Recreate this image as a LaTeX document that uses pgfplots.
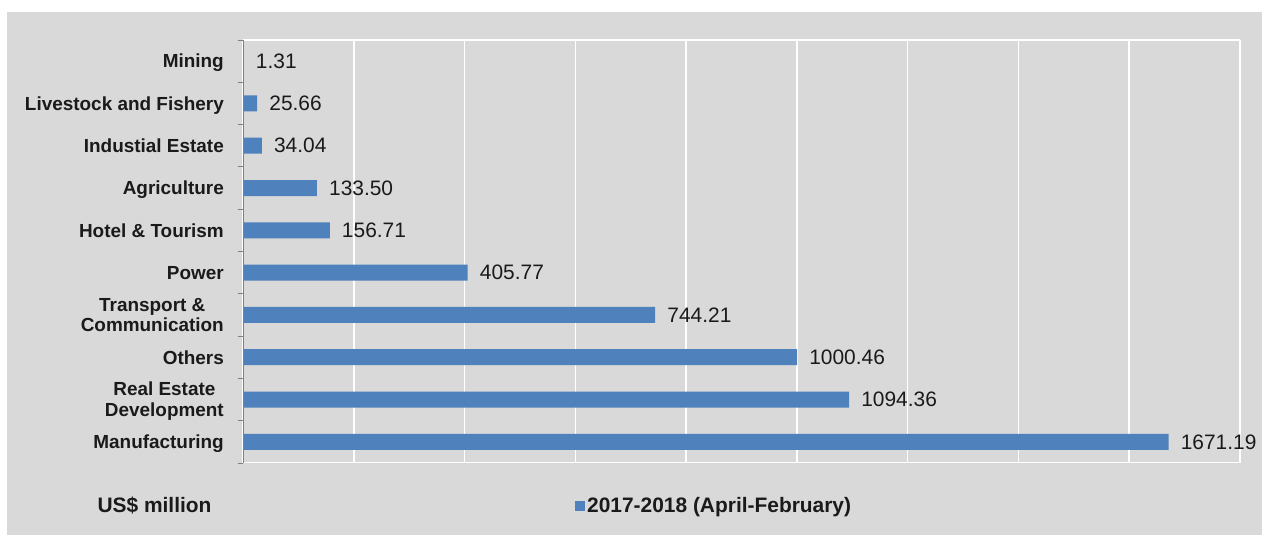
\documentclass[border=0pt]{standalone}
\usepackage{pgfplots}
\pgfplotsset{compat=1.18}
\usepackage{fontspec}
\setmainfont{Liberation Sans}
\definecolor{bg}{RGB}{217,217,217}
\definecolor{barblue}{RGB}{79,129,189}
\definecolor{txt}{RGB}{26,26,26}
\begin{document}
\begin{tikzpicture}
\path[use as bounding box, fill=white] (0,0) rectangle (1271bp,543bp);
\fill[bg] (7bp,8bp) rectangle (1262bp,531bp);
\begin{axis}[
  at={(243bp,80bp)}, anchor=south west,
  scale only axis, width=997bp, height=423bp,
  xbar, bar width=16bp,
  xmin=0, xmax=1800, ymin=-0.5, ymax=9.5,
  xtick={0,200,...,1800}, xticklabels={},
  xmajorgrids, major grid style={white, line width=1.5bp},
  axis line style={draw=none},
  major tick length=0pt,
  tick align=outside, ytick pos=left, xtick pos=bottom,
  ytick={0,...,9},
  yticklabels={Manufacturing, {Real Estate\\Development}, Others, {Transport \&\\Communication}, Power, {Hotel \& Tourism}, Agriculture, Industial Estate, Livestock and Fishery, Mining},
  extra y ticks={-0.5,0.5,...,9.5},
  extra y tick labels={},
  extra y tick style={major tick length=5bp, tick style={gray, line width=0.8bp}},
  yticklabel style={font=\bfseries\fontsize{19}{21}\selectfont, align=center, inner sep=0pt, text depth=0pt, text=txt, xshift=-19bp},
  legend style={at={(0.333,-0.1017)}, anchor=west, draw=none, fill=none, inner sep=0pt,
    font=\bfseries\fontsize{21}{24}\selectfont, text=txt,
    nodes={inner sep=2bp}},
  legend image code/.code={\fill[barblue] (0bp,-5bp) rectangle (10bp,5bp);},
]
\addplot[fill=barblue, draw=none, point meta=explicit symbolic,
  nodes near coords,
  nodes near coords style={anchor=west, inner sep=0pt, xshift=12bp, text=txt, font=\fontsize{21}{24}\selectfont}]
  coordinates {(1671.19,0)[1671.19] (1094.36,1)[1094.36] (1000.46,2)[1000.46] (744.21,3)[744.21] (405.77,4)[405.77] (156.71,5)[156.71] (133.50,6)[133.50] (34.04,7)[34.04] (25.66,8)[25.66] (1.31,9)[1.31]};
\addlegendentry{2017-2018 (April-February)}
\draw[white, line width=1.5bp] (rel axis cs:0,0) rectangle (rel axis cs:1,1);
\draw[gray, line width=0.8bp] (rel axis cs:0,0) -- (rel axis cs:0,1);
\end{axis}
\node[font=\bfseries\fontsize{21}{24}\selectfont, text=txt, inner sep=0pt] at (154.5bp,37bp) {US\$ million};
\end{tikzpicture}
\end{document}
